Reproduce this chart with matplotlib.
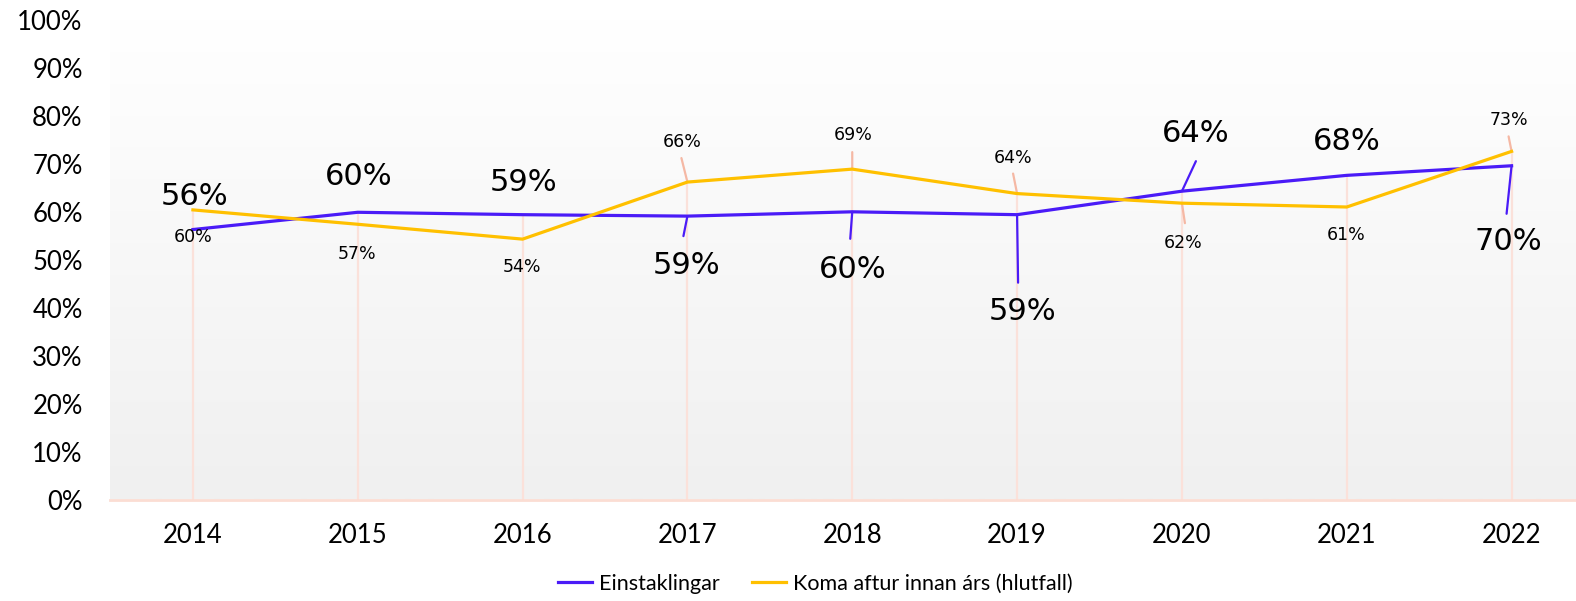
import matplotlib
matplotlib.use("Agg")
import matplotlib.pyplot as plt
import numpy as np
from matplotlib.ticker import FuncFormatter
from matplotlib.colors import LinearSegmentedColormap

# ---- data ----
years = ["2014", "2015", "2016", "2017", "2018", "2019", "2020", "2021", "2022"]
einstaklingar = [56.3, 59.9, 59.4, 59.1, 60.0, 59.4, 64.3, 67.6, 69.6]
koma_aftur = [60.4, 57.4, 54.3, 66.2, 68.9, 63.8, 61.8, 61.0, 72.6]
series_names = ["Einstaklingar", "Koma aftur innan árs (hlutfall)"]
y_ticks = [0, 10, 20, 30, 40, 50, 60, 70, 80, 90, 100]

# ---- styling / label placement (pixel offsets) ----
PURPLE = "#4A1BF7"
YELLOW = "#FFC000"
PINK = "#FBE1DA"
LEADER_PINK = "#F5B8A4"

p_lab_off = [(2, 33), (1, 36), (1, 32), (-1, -49), (0, -58), (5, -97), (14, 58), (0, 34), (-3, -76)]
p_lead = [None, None, None, (-4, -20), (-2, -27), (1, -68), (14, 30), None, (-5, -48)]
y_lab_off = [(0, -27), (-1, -30), (-1, -28), (-5, 40), (1, 34), (-4, 36), (1, -40), (-1, -28), (-3, 31)]
y_lead = [None, None, None, (-6, 24), (0, 17), (-4, 20), (3, -20), None, (-3, 15)]

AXFONT = "Lato"

fig = plt.figure(figsize=(15.76, 6.01), dpi=100)
ax = fig.add_axes([110.5 / 1576, (601 - 499.5) / 601, (1594 - 110.5) / 1576, (499.5 - 20) / 601])

x = np.arange(len(years))
ax.set_xlim(-0.5, len(years) - 0.5)
ax.set_ylim(0, 100)

# gradient background
grad = np.linspace(1, 0, 256).reshape(-1, 1)
cmap = LinearSegmentedColormap.from_list("bg", ["#F0F0F0", "#FFFFFF"])
ax.imshow(grad, aspect="auto", cmap=cmap, extent=[-0.5, len(years) - 0.5, 0, 100],
          origin="upper", zorder=0, vmin=0, vmax=1)

# drop lines
tops = [max(a, b) for a, b in zip(einstaklingar, koma_aftur)]
ax.vlines(x, 0, tops, color=PINK, lw=1.6, zorder=1)

ax.plot(x, einstaklingar, color=PURPLE, lw=2.3, zorder=3, label=series_names[0])
ax.plot(x, koma_aftur, color=YELLOW, lw=2.3, zorder=3, label=series_names[1])

# leader lines and labels
for i in range(len(years)):
    for vals, offs, leads, col, fs in (
        (einstaklingar, p_lab_off, p_lead, PURPLE, 22),
        (koma_aftur, y_lab_off, y_lead, LEADER_PINK, 12.5),
    ):
        if leads[i] is not None:
            ax.annotate("", xy=(x[i], vals[i]), xytext=leads[i], textcoords="offset pixels",
                        arrowprops=dict(arrowstyle="-", color=col, lw=1.6, shrinkA=0, shrinkB=0),
                        zorder=2)
        ax.annotate(f"{round(vals[i])}%", xy=(x[i], vals[i]), xytext=offs[i],
                    textcoords="offset pixels", ha="center", va="center",
                    fontsize=fs, family="DejaVu Sans", color="black", zorder=4)

# axes styling
for s in ["top", "right", "left"]:
    ax.spines[s].set_visible(False)
ax.spines["bottom"].set_color("#FBDDD3")
ax.spines["bottom"].set_linewidth(2)
ax.spines["bottom"].set_zorder(2)

ax.set_xticks(x)
ax.set_xticklabels(years, family=AXFONT, fontsize=18.5)
ax.set_yticks(y_ticks)
ax.yaxis.set_major_formatter(FuncFormatter(lambda v, p: f"{int(v)}%"))
for lab in ax.get_yticklabels():
    lab.set_family(AXFONT)
    lab.set_fontsize(18.5)
ax.tick_params(axis="x", length=0, pad=17)
ax.tick_params(axis="y", length=0, pad=20)

leg = fig.legend(loc="center", bbox_to_anchor=(815 / 1576, 1 - 584 / 601), ncol=2, frameon=False,
                 prop={"family": AXFONT, "size": 15.5}, handlelength=1.6, columnspacing=1.5,
                 handletextpad=0.3)

fig.savefig("out.png", dpi=100)
